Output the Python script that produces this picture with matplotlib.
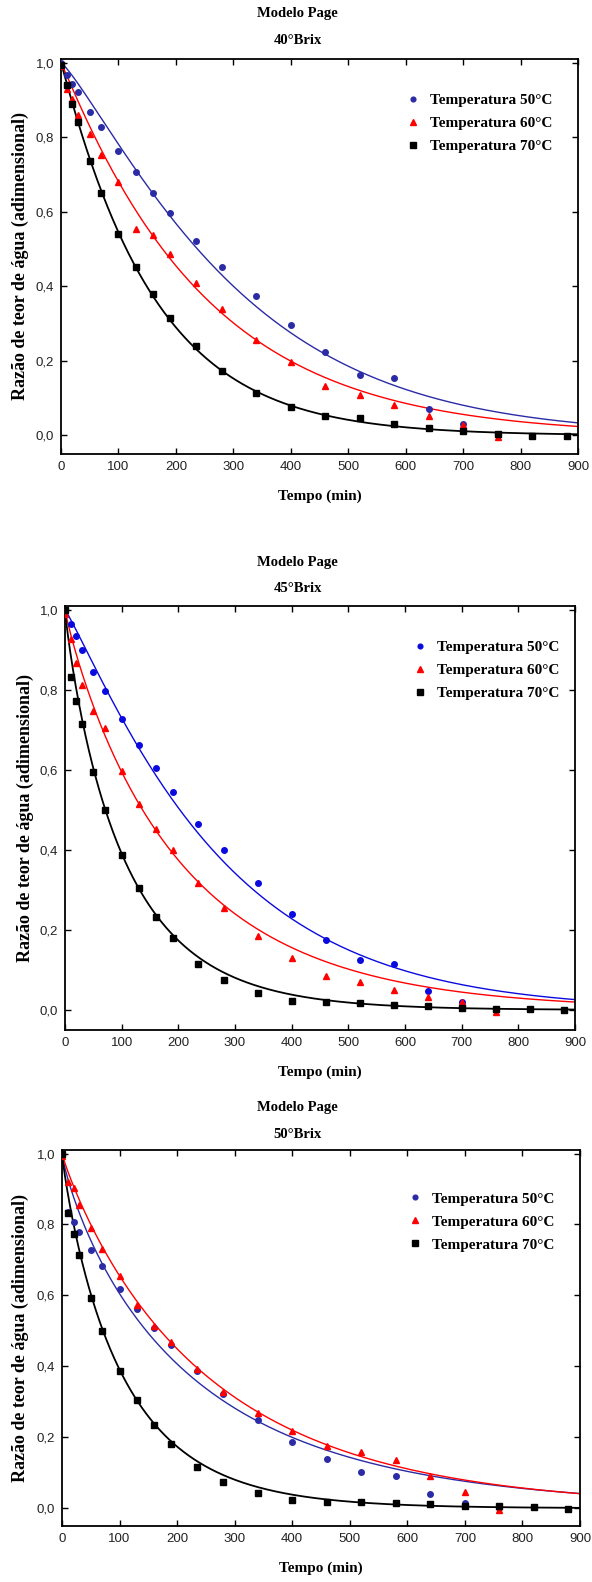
import numpy as np
import matplotlib
matplotlib.use('Agg')
import matplotlib.pyplot as plt

# tempos de medida (min)
tempo = [0, 10, 20, 30, 50, 70, 100, 130, 160, 190, 235, 280, 340, 400,
         460, 520, 580, 640, 700, 760, 820, 880]

# razao de teor de agua
mr40_50 = [1.0, 0.968, 0.942, 0.922, 0.868, 0.828, 0.763, 0.707, 0.651, 0.598,
           0.522, 0.453, 0.373, 0.297, 0.224, 0.163, 0.155, 0.071, 0.031, 0.0]
mr40_60 = [0.99, 0.929, 0.904, 0.861, 0.809, 0.753, 0.679, 0.555, 0.539, 0.488,
           0.41, 0.338, 0.256, 0.198, 0.132, 0.109, 0.081, 0.053, 0.027, -0.004]
mr40_70 = [0.995, 0.94, 0.89, 0.84, 0.735, 0.651, 0.541, 0.453, 0.38, 0.316,
           0.24, 0.172, 0.114, 0.075, 0.051, 0.046, 0.031, 0.019, 0.011, 0.004,
           -0.002, -0.002]

mr45_50 = [1.0, 0.966, 0.935, 0.90, 0.844, 0.797, 0.727, 0.662, 0.606, 0.545,
           0.465, 0.399, 0.318, 0.241, 0.176, 0.124, 0.115, 0.048, 0.02, 0.0]
mr45_60 = [0.99, 0.927, 0.868, 0.813, 0.747, 0.704, 0.598, 0.516, 0.452, 0.40,
           0.318, 0.254, 0.186, 0.131, 0.085, 0.071, 0.049, 0.033, 0.02, -0.004]
mr45_70 = [1.0, 0.833, 0.772, 0.714, 0.594, 0.50, 0.387, 0.306, 0.233, 0.181,
           0.115, 0.075, 0.042, 0.022, 0.019, 0.018, 0.013, 0.01, 0.005, 0.003,
           0.003, -0.001]

mr50_50 = [1.0, 0.835, 0.808, 0.78, 0.728, 0.683, 0.619, 0.561, 0.508, 0.46,
           0.387, 0.322, 0.25, 0.188, 0.14, 0.101, 0.091, 0.04, 0.016, 0.0]
mr50_60 = [0.993, 0.92, 0.904, 0.855, 0.789, 0.73, 0.654, 0.574, 0.515, 0.469,
           0.393, 0.329, 0.268, 0.219, 0.176, 0.158, 0.136, 0.091, 0.045, -0.005]
mr50_70 = [1.0, 0.833, 0.772, 0.715, 0.593, 0.501, 0.387, 0.305, 0.234, 0.181,
           0.116, 0.075, 0.042, 0.023, 0.019, 0.019, 0.014, 0.011, 0.007, 0.005,
           0.003, -0.002]

# parametros do modelo de Page (k, n) estimados das curvas
page40 = [(0.001015, 1.193), (0.00327, 1.035), (0.00531, 1.029)]
page45 = [(0.001855, 1.115), (0.0075, 0.92), (0.01502, 0.898)]
page50 = [(0.0105, 0.84), (0.00611, 0.92), (0.01502, 0.898)]

brix = ['40°Brix', '45°Brix', '50°Brix']
legendas = ['Temperatura 50°C', 'Temperatura 60°C', 'Temperatura 70°C']
xticks = [0, 100, 200, 300, 400, 500, 600, 700, 800, 900]
yticks = [0.0, 0.2, 0.4, 0.6, 0.8, 1.0]
ylabels = ['0,0', '0,2', '0,4', '0,6', '0,8', '1,0']

dados = [[mr40_50, mr40_60, mr40_70],
         [mr45_50, mr45_60, mr45_70],
         [mr50_50, mr50_60, mr50_70]]
modelos = [page40, page45, page50]

W, H = 592, 1582
fig = plt.figure(figsize=(W / 100, H / 100), dpi=100)

# caixas dos eixos em pixels: esquerda, topo, direita, base
caixas = [(61, 59, 578, 454), (65, 606, 575, 1030), (62, 1150, 580, 1526)]
titulo_y = [14, 562, 1108]
ylabel_x = [20, 25, 20]
leg_x = [0.667, 0.682, 0.667]
leg_top = [0.912, 0.918, 0.888]

azuis = ['#2b2ba6', '#0a0ae0', '#2b2ba6']
serif = 'Liberation Serif'
sans = 'Liberation Sans'

for p in range(3):
    l, t, r, b = caixas[p]
    ax = fig.add_axes([l / W, 1 - b / H, (r - l) / W, (b - t) / H])
    cores = [azuis[p], '#ff0000', '#000000']
    marcas = ['o', '^', 's']
    tamanhos = [4.0, 4.5, 4.3]
    tt = np.linspace(0, 900, 901)
    for s in range(3):
        k, n = modelos[p][s]
        ax.plot(tt, np.exp(-k * tt ** n), color=cores[s],
                lw=1.3 if s == 2 else 1.0, zorder=2)
    for s in range(3):
        y = dados[p][s]
        ax.plot(tempo[:len(y)], y, ls='none', marker=marcas[s],
                ms=tamanhos[s], color=cores[s], mec=cores[s],
                label=legendas[s], zorder=3 + s)

    ax.set_xlim(0, 900)
    ax.set_ylim(-0.05, 1.01)
    ax.set_xticks(xticks)
    ax.set_yticks(yticks)
    ax.set_yticklabels(ylabels)
    ax.tick_params(direction='in', top=True, right=True, length=4,
                   width=1.0, labelsize=9.5, labelcolor='#222222', pad=5)
    for lab in ax.get_xticklabels() + ax.get_yticklabels():
        lab.set_family(sans)
    for sp in ax.spines.values():
        sp.set_linewidth(1.3)

    ax.set_xlabel('Tempo (min)', family=serif, weight='bold', fontsize=11,
                  labelpad=12)

    cy = 1 - (t + b) / 2 / H
    fig.text(ylabel_x[p] / W, cy, 'Razão de teor de água (adimensional)',
             rotation=90, ha='center', va='center', family=serif,
             weight='bold', fontsize=13)
    fig.text(0.503, 1 - titulo_y[p] / H, 'Modelo Page', ha='center',
             va='center', family=serif, weight='bold', fontsize=10.5)
    fig.text(0.503, 1 - (titulo_y[p] + 26) / H, brix[p], ha='center',
             va='center', family=serif, weight='bold', fontsize=10.5)

    leg = ax.legend(loc='upper left', bbox_to_anchor=(leg_x[p], leg_top[p]),
                    frameon=False, borderpad=0, borderaxespad=0,
                    handlelength=1.0, handletextpad=0.6, labelspacing=0.61,
                    markerscale=0.85,
                    prop={'family': serif, 'weight': 'bold', 'size': 11})

fig.savefig('out.png', dpi=100)
